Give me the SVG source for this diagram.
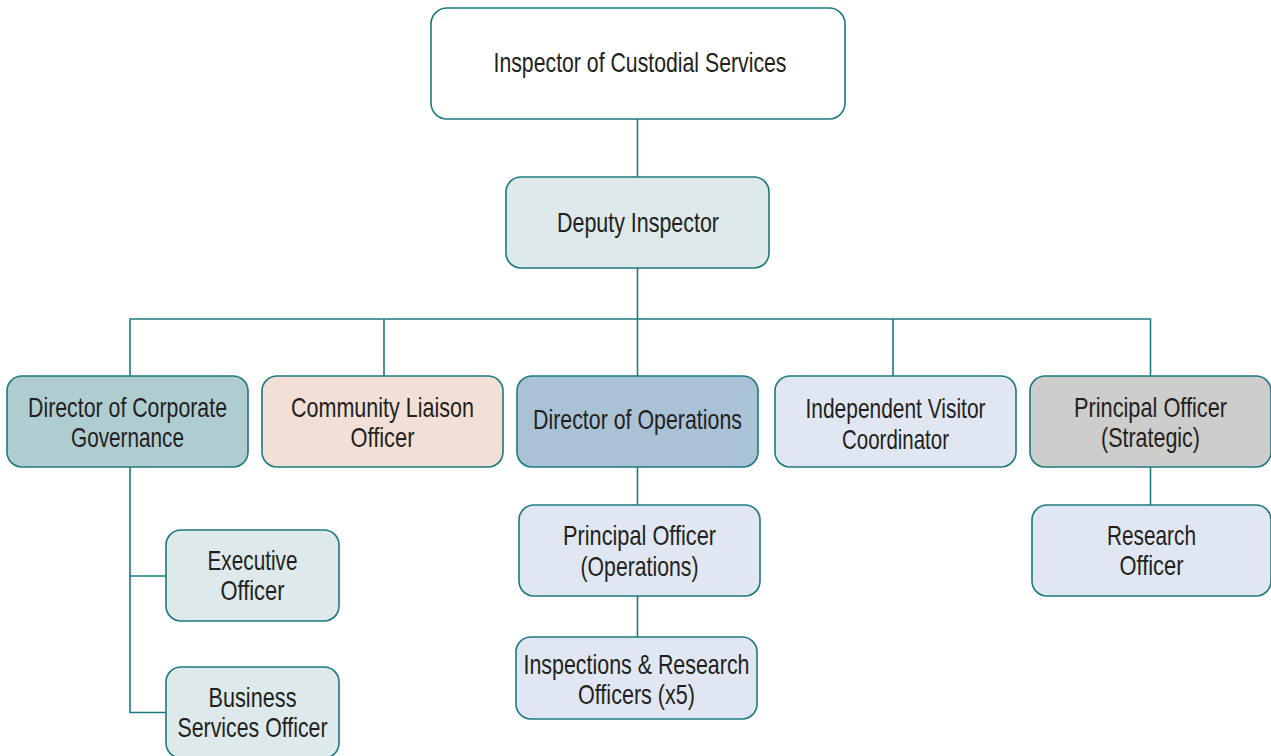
<svg xmlns="http://www.w3.org/2000/svg" width="1271" height="756" viewBox="0 0 1271 756">
  <style>
    .box { stroke: #1d7a7f; stroke-width: 1.6; }
    .lbl { font-family: "Liberation Sans", Arial, sans-serif; font-size: 28px; fill: #231f20; text-anchor: middle; }
    .conn { stroke: #1d7a7f; stroke-width: 1.6; fill: none; }
    .white { fill: #ffffff; }
    .teal-lt { fill: #dde9ea; }
    .teal { fill: #afcdd1; }
    .peach { fill: #f2e0d6; }
    .steel { fill: #a9c2d6; }
    .lav { fill: #e1e7f2; }
    .grey { fill: #cdcdcb; }
  </style>

  <rect width="1271" height="756" fill="#ffffff"/>

  <!-- reporting lines -->
  <g id="connectors">
    <path class="conn" d="M637.5 119 V177"/>
    <path class="conn" d="M637.5 268 V376"/>
    <path class="conn" d="M130 376 V319 H1150.5 V376"/>
    <path class="conn" d="M384 319 V376"/>
    <path class="conn" d="M893 319 V376"/>
    <path class="conn" d="M130 467 V712.5 H166"/>
    <path class="conn" d="M130 576 H166"/>
    <path class="conn" d="M637.5 467 V505"/>
    <path class="conn" d="M637.5 596 V637"/>
    <path class="conn" d="M1150.5 467 V505"/>
  </g>

  <g id="inspector">
    <rect class="box white" x="431" y="8" width="414" height="111" rx="16"/>
    <text class="lbl" x="640" y="72" textLength="293" lengthAdjust="spacingAndGlyphs">Inspector of Custodial Services</text>
  </g>

  <g id="deputy">
    <rect class="box teal-lt" x="506" y="177" width="263" height="91" rx="15"/>
    <text class="lbl" x="638" y="232" textLength="162" lengthAdjust="spacingAndGlyphs">Deputy Inspector</text>
  </g>

  <g id="dir-corporate">
    <rect class="box teal" x="7" y="376" width="241" height="91" rx="15"/>
    <text class="lbl" x="127.5" y="417" textLength="199" lengthAdjust="spacingAndGlyphs">Director of Corporate</text>
    <text class="lbl" x="127.5" y="447" textLength="113" lengthAdjust="spacingAndGlyphs">Governance</text>
  </g>

  <g id="community-liaison">
    <rect class="box peach" x="262" y="376" width="241" height="91" rx="15"/>
    <text class="lbl" x="382.5" y="417" textLength="183" lengthAdjust="spacingAndGlyphs">Community Liaison</text>
    <text class="lbl" x="382.5" y="447" textLength="64" lengthAdjust="spacingAndGlyphs">Officer</text>
  </g>

  <g id="dir-operations">
    <rect class="box steel" x="517" y="376" width="241" height="91" rx="15"/>
    <text class="lbl" x="637.5" y="429" textLength="209" lengthAdjust="spacingAndGlyphs">Director of Operations</text>
  </g>

  <g id="visitor-coordinator">
    <rect class="box lav" x="775" y="376" width="241" height="91" rx="15"/>
    <text class="lbl" x="895.5" y="418" textLength="180" lengthAdjust="spacingAndGlyphs">Independent Visitor</text>
    <text class="lbl" x="895.5" y="449" textLength="107" lengthAdjust="spacingAndGlyphs">Coordinator</text>
  </g>

  <g id="principal-strategic">
    <rect class="box grey" x="1030" y="376" width="241" height="91" rx="15"/>
    <text class="lbl" x="1150.5" y="417" textLength="153" lengthAdjust="spacingAndGlyphs">Principal Officer</text>
    <text class="lbl" x="1150.5" y="447" textLength="99" lengthAdjust="spacingAndGlyphs">(Strategic)</text>
  </g>

  <g id="executive-officer">
    <rect class="box teal-lt" x="166" y="530" width="173" height="91" rx="15"/>
    <text class="lbl" x="252.5" y="570" textLength="90" lengthAdjust="spacingAndGlyphs">Executive</text>
    <text class="lbl" x="252.5" y="600" textLength="64" lengthAdjust="spacingAndGlyphs">Officer</text>
  </g>

  <g id="business-services">
    <rect class="box teal-lt" x="166" y="667" width="173" height="91" rx="15"/>
    <text class="lbl" x="252.5" y="707" textLength="88" lengthAdjust="spacingAndGlyphs">Business</text>
    <text class="lbl" x="252.5" y="737" textLength="150" lengthAdjust="spacingAndGlyphs">Services Officer</text>
  </g>

  <g id="principal-operations">
    <rect class="box lav" x="519" y="505" width="241" height="91" rx="15"/>
    <text class="lbl" x="639.5" y="545" textLength="153" lengthAdjust="spacingAndGlyphs">Principal Officer</text>
    <text class="lbl" x="639.5" y="576" textLength="118" lengthAdjust="spacingAndGlyphs">(Operations)</text>
  </g>

  <g id="inspections-research">
    <rect class="box lav" x="516" y="637" width="241" height="82" rx="15"/>
    <text class="lbl" x="636.5" y="674" textLength="226" lengthAdjust="spacingAndGlyphs">Inspections &amp; Research</text>
    <text class="lbl" x="636.5" y="704" textLength="117" lengthAdjust="spacingAndGlyphs">Officers (x5)</text>
  </g>

  <g id="research-officer">
    <rect class="box lav" x="1032" y="505" width="239" height="91" rx="15"/>
    <text class="lbl" x="1151.5" y="545" textLength="89" lengthAdjust="spacingAndGlyphs">Research</text>
    <text class="lbl" x="1151.5" y="575" textLength="64" lengthAdjust="spacingAndGlyphs">Officer</text>
  </g>
</svg>
